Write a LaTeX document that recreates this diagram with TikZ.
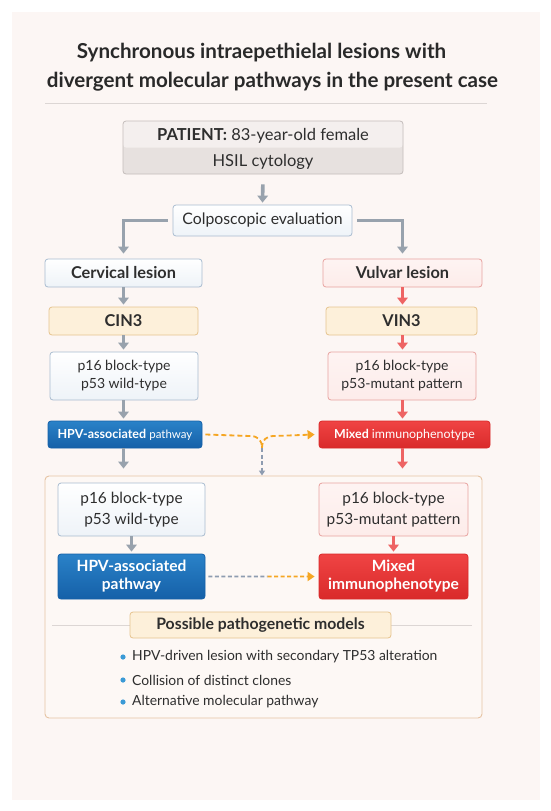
\documentclass[tikz,border=0pt]{standalone}
\usepackage{fontspec}
\setmainfont{Lato}
\usetikzlibrary{arrows.meta,calc}
\definecolor{panel}{HTML}{FCF6F4}
\definecolor{txt}{HTML}{2E2E2E}
\definecolor{sepc}{HTML}{DCD6D4}
\definecolor{arrgray}{HTML}{98A2AD}
\definecolor{arrred}{HTML}{EE6464}
\definecolor{bluefill}{HTML}{EEF3F8}
\definecolor{blueline}{HTML}{A9BCD0}
\definecolor{pinkfill}{HTML}{FDECEA}
\definecolor{pinkline}{HTML}{E8A3A0}
\definecolor{creamfill}{HTML}{FDF0DA}
\definecolor{creamline}{HTML}{E6C38E}
\definecolor{graytop}{HTML}{F4EFEE}
\definecolor{graybot}{HTML}{E7E1DF}
\definecolor{grayline}{HTML}{C4BDBB}
\definecolor{hpvtop}{HTML}{2A82C8}
\definecolor{hpvbot}{HTML}{1560A8}
\definecolor{mixtop}{HTML}{F04444}
\definecolor{mixbot}{HTML}{D92A2A}
\definecolor{dashor}{HTML}{F5A623}
\definecolor{dashgr}{HTML}{8E9CB0}
\definecolor{framefill}{HTML}{FDF8F5}
\definecolor{frameline}{HTML}{E6C3A3}
\definecolor{bulletc}{HTML}{3A9AD6}
\tikzset{
  box/.style={rounded corners=3pt, line width=0.8pt, inner sep=0pt, align=center,
    text=txt, font=\fontsize{14}{18}\selectfont},
  bluebox/.style={box, draw=blueline, top color=white, bottom color=bluefill},
  pinkbox/.style={box, draw=pinkline, top color=white!40!pinkfill, bottom color=pinkfill},
  creambox/.style={box, draw=creamline, fill=creamfill},
  hpvbox/.style={box, draw=hpvbot, top color=hpvtop, bottom color=hpvbot, text=white},
  mixbox/.style={box, draw=mixbot, top color=mixtop, bottom color=mixbot, text=white},
  garrow/.style={draw=arrgray, line width=3.6pt, -{Triangle[width=10.5pt,length=7pt]}},
  rarrow/.style={draw=arrred, line width=3.6pt, -{Triangle[width=10.5pt,length=7pt]}},
  titlefont/.style={font=\fontsize{20.6}{24}\selectfont\bfseries, text=txt!90!black, inner sep=0pt},
  boldlabel/.style={font=\fontsize{16.3}{19}\selectfont\bfseries},
  bul/.style={anchor=west, inner sep=0pt, text=txt, font=\fontsize{13.9}{16}\selectfont},
}
\begin{document}
\begin{tikzpicture}[x=1pt,y=-1pt]
\useasboundingbox (0,0) rectangle (550,811);
\fill[white] (0,0) rectangle (550,811);
\fill[panel] (12,12) rectangle (540,800);

% title
\node[titlefont] (t1) at (261.5,53) {Synchronous intraepethielal lesions with};
\node[titlefont] (t2) at (272.5,82) {divergent molecular pathways in the present case};
\draw[sepc, line width=0.8pt] (45,103) -- (487,103);

% patient
\node[box, draw=grayline, fill=graybot, minimum width=280pt, minimum height=53pt,
  path picture={\fill[graytop] (path picture bounding box.north west) rectangle (path picture bounding box.east);}]
  (pat) at (263,147.5) {};
\node[inner sep=0pt, text=txt, font=\fontsize{16.5}{19}\selectfont] (patl1) at (263,136) {\textbf{PATIENT:} 83-year-old female};
\node[inner sep=0pt, text=txt, font=\fontsize{16.5}{19}\selectfont] (patl2) at (263,162) {HSIL cytology};

\node[bluebox, minimum width=179pt, minimum height=31pt, font=\fontsize{15.8}{19}\selectfont] (colpo) at (262.5,220.5) {Colposcopic evaluation};

% columns
\node[bluebox, boldlabel, minimum width=157pt, minimum height=28pt] (cerv) at (123.5,273) {Cervical lesion};
\node[pinkbox, boldlabel, minimum width=159pt, minimum height=28pt] (vulv) at (402.5,273) {Vulvar lesion};
\node[creambox, boldlabel, minimum width=149pt, minimum height=28pt] (cin) at (123.5,321) {CIN3};
\node[creambox, boldlabel, minimum width=151pt, minimum height=28pt] (vin) at (401.5,321) {VIN3};
\node[bluebox, minimum width=148pt, minimum height=48pt] (pl1) at (124,376) {p16 block-type\\p53 wild-type};
\node[pinkbox, minimum width=148pt, minimum height=48pt] (pr1) at (402,376) {p16 block-type\\p53-mutant pattern};
\node[hpvbox, minimum width=154pt, minimum height=27pt, font=\fontsize{12.5}{15}\selectfont] (hpv1) at (125,434.5) {\textbf{HPV-associated} {\fontsize{11.5}{14}\selectfont pathway}};
\node[mixbox, minimum width=171pt, minimum height=27pt, font=\fontsize{12.4}{15}\selectfont] (mix1) at (404.5,434.5) {\textbf{Mixed} immunophenotype};

% frame
\node[rounded corners=4pt, draw=frameline, fill=framefill, line width=0.9pt, minimum width=437pt, minimum height=242pt, inner sep=0pt] (frame) at (263.5,597) {};
\node[bluebox, minimum width=147pt, minimum height=53pt, font=\fontsize{15.4}{21}\selectfont] (pl2) at (131.5,509.5) {p16 block-type\\p53 wild-type};
\node[pinkbox, minimum width=149pt, minimum height=53pt, font=\fontsize{15.4}{21}\selectfont] (pr2) at (393.5,509.5) {p16 block-type\\p53-mutant pattern};
\node[hpvbox, minimum width=147pt, minimum height=45pt, font=\fontsize{15.5}{18}\selectfont\bfseries] (hpv2) at (131.5,576.5) {HPV-associated\\pathway};
\node[mixbox, minimum width=149pt, minimum height=45pt, font=\fontsize{15.5}{18}\selectfont\bfseries] (mix2) at (393.5,576.5) {Mixed\\immunophenotype};

\draw[sepc, line width=0.8pt] (52,625) -- (472,625);
\node[creambox, minimum width=261pt, minimum height=26pt, font=\fontsize{15.8}{18}\selectfont\bfseries] (models) at (260.5,625) {Possible pathogenetic models};

\node[bul] (b1) at (132,657) {HPV-driven lesion with secondary TP53 alteration};
\node[bul] (b2) at (132,680) {Collision of distinct clones};
\node[bul] (b3) at (132,702) {Alternative molecular pathway};
\foreach \b in {b1,b2,b3} \fill[bulletc] ($(\b.west)+(-9,0)$) circle (2.6pt);

% arrows
\draw[garrow, shorten <=10pt, shorten >=2pt] (pat.south) -- (colpo.north);
\draw[garrow, shorten <=5pt, shorten >=5pt] (colpo.west) -| (cerv.north);
\draw[garrow, shorten <=5pt, shorten >=5pt] (colpo.east) -| (vulv.north);
\draw[garrow, shorten >=2pt] (cerv.south) -- (cerv.south |- cin.north);
\draw[garrow, shorten >=2pt] (cerv.south |- cin.south) -- (cerv.south |- pl1.north);
\draw[garrow, shorten >=2pt] (cerv.south |- pl1.south) -- (cerv.south |- hpv1.north);
\draw[garrow, shorten >=7pt] (cerv.south |- hpv1.south) -- (cerv.south |- frame.north);
\draw[rarrow, shorten >=2pt] (vulv.south) -- (vulv.south |- vin.north);
\draw[rarrow, shorten >=2pt] (vulv.south |- vin.south) -- (vulv.south |- pr1.north);
\draw[rarrow, shorten >=2pt] (vulv.south |- pr1.south) -- (vulv.south |- mix1.north);
\draw[rarrow, shorten >=7pt] (vulv.south |- mix1.south) -- (vulv.south |- frame.north);
\draw[garrow, shorten >=2pt] (pl2.south) -- (pl2.south |- hpv2.north);
\draw[rarrow, shorten >=2pt] (pr2.south) -- (pr2.south |- mix2.north);

% dashed junction
\coordinate (jn) at (262,448);
\draw[dashor, line width=1.8pt, dash pattern=on 5pt off 3pt] ([xshift=3pt]hpv1.east) -- (250,436) .. controls (258,436) and (262,440) .. (jn);
\draw[dashor, line width=1.8pt, dash pattern=on 5pt off 3pt, -{Triangle[width=9pt,length=7pt]}] (jn) .. controls (262,440) and (266,436) .. (274,436) -- ([xshift=-4pt]mix1.west);
\draw[dashgr, line width=1.8pt, dash pattern=on 4pt off 2.5pt, -{Triangle[width=6pt,length=5pt]}] (jn) -- (jn |- frame.north);

% bottom dashed
\draw[line width=1.8pt, dash pattern=on 4pt off 2.5pt, dashgr] ([xshift=3pt]hpv2.east) -- ($(hpv2.east)!0.55!(mix2.west)$) coordinate (mid);
\draw[line width=1.8pt, dash pattern=on 4pt off 2.5pt, dashor, -{Triangle[width=9pt,length=7pt]}] (mid) -- ([xshift=-4pt]mix2.west);
\end{tikzpicture}
\end{document}
